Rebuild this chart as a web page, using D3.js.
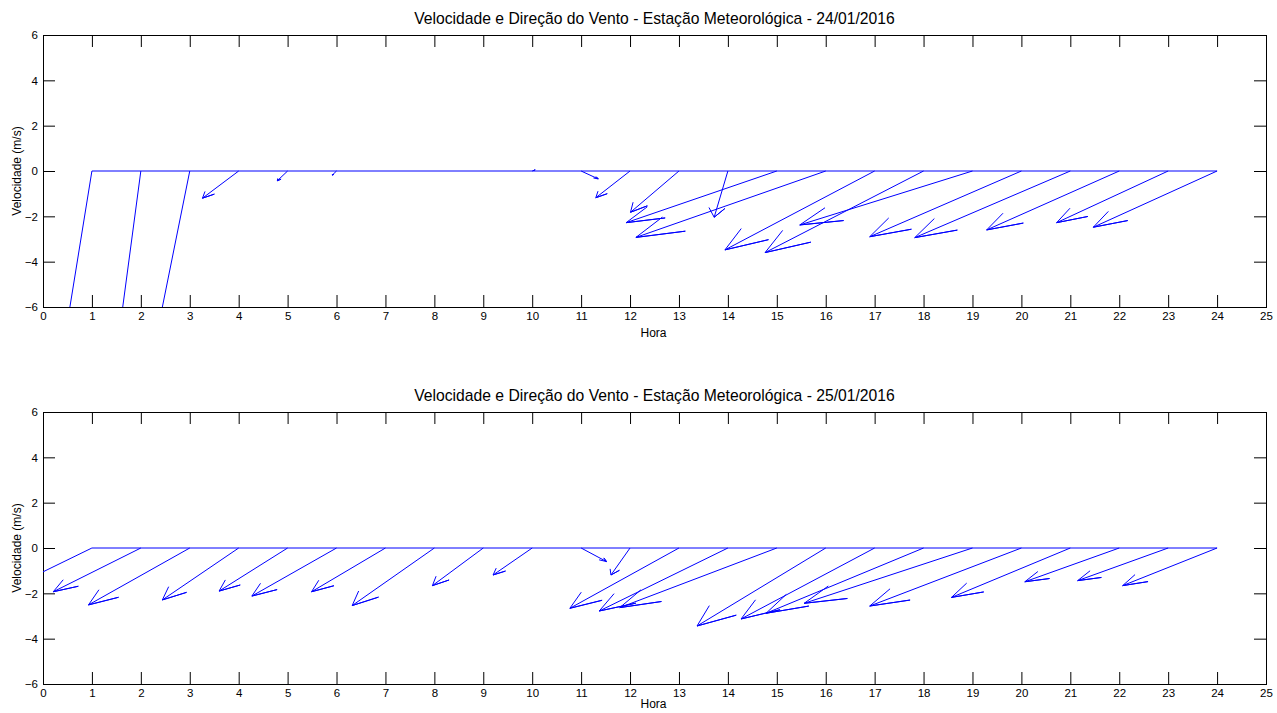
<!DOCTYPE html>
<html>
<head>
<meta charset="utf-8">
<script src="https://cdn.jsdelivr.net/npm/d3@7"></script>
<style>
  body { margin: 0; background: #fff; }
  svg { display: block; font-family: "Liberation Sans", Arial, sans-serif; }
</style>
</head>
<body>
<svg id="chart" width="1277" height="713"></svg>
<script>
// ---- data ----
const hours = d3.range(1, 25);           // 1..24 hour positions
const xTicks = d3.range(0, 26);          // 0..25
const yTicks = [-6, -4, -2, 0, 2, 4, 6];

const titles = [
  "Velocidade e Direção do Vento - Estação Meteorológica - 24/01/2016",
  "Velocidade e Direção do Vento - Estação Meteorológica - 25/01/2016"
];

// day 1 (24/01/2016) wind components (u east, v north) in m/s
const u1 = [-0.90, -0.74, -1.12, -0.74, -0.21, -0.086, 0, 0, 0, 0.06, 0.35, -0.70,
            -0.99, -0.28, -3.08, -3.88, -3.06, -3.24, -3.53, -3.10, -3.18, -2.71, -2.28, -2.53];
const v1 = [-12.0, -12.0, -12.0, -1.20, -0.43, -0.18, 0, 0, 0, 0.05, -0.35, -1.18,
            -1.82, -2.04, -2.28, -2.93, -3.48, -3.60, -2.38, -2.90, -2.94, -2.60, -2.28, -2.48];

// day 2 (25/01/2016)
const u2 = [-2.30, -1.79, -2.07, -1.56, -1.40, -1.73, -1.51, -1.68, -1.04, -0.80, 0.52, -0.39,
            -2.23, -2.63, -3.21, -2.63, -2.73, -3.22, -3.44, -3.10, -2.43, -1.93, -1.85, -1.93];
const v2 = [-2.42, -1.93, -2.51, -2.29, -1.90, -2.12, -1.93, -2.54, -1.66, -1.19, -0.60, -1.19,
            -2.66, -2.78, -2.63, -3.44, -3.13, -2.88, -2.44, -2.56, -2.18, -1.49, -1.44, -1.66];

const xLabel = "Hora";
const yLabel = "Velocidade (m/s)";

// ---- layout ----
const svg = d3.select("#chart");
const left = 43, right = 1266;
const panels = [
  { top: 35, bottom: 307, u: u1, v: v1, title: titles[0] },
  { top: 412, bottom: 684, u: u2, v: v2, title: titles[1] }
];

// feather arrow template (MATLAB style): 0 -> tip -> barb -> tip -> barb
const arrowRe = [0, 1, 0.8, 1, 0.8];
const arrowIm = [0, 0, 0.08, 0, -0.08];

panels.forEach((p, k) => {
  const x = d3.scaleLinear().domain([0, 25]).range([left, right]);
  const y = d3.scaleLinear().domain([-6, 6]).range([p.bottom, p.top]);
  const g = svg.append("g");

  const clipId = "clip" + k;
  svg.append("clipPath").attr("id", clipId)
    .append("rect").attr("x", left).attr("y", p.top)
    .attr("width", right - left).attr("height", p.bottom - p.top);

  // axes
  const tickLen = 12;
  g.append("g").attr("transform", `translate(0,${p.bottom})`)
    .call(d3.axisBottom(x).tickValues(xTicks).tickSize(-tickLen).tickPadding(5).tickFormat(d3.format("d")))
    .call(a => a.select(".domain").remove());
  g.append("g").attr("transform", `translate(0,${p.top})`)
    .call(d3.axisTop(x).tickValues(xTicks).tickSize(-tickLen).tickFormat(""))
    .call(a => a.select(".domain").remove());
  g.append("g").attr("transform", `translate(${left},0)`)
    .call(d3.axisLeft(y).tickValues(yTicks).tickSize(-tickLen).tickPadding(5).tickFormat(d3.format("d")))
    .call(a => a.select(".domain").remove());
  g.append("g").attr("transform", `translate(${right},0)`)
    .call(d3.axisRight(y).tickValues(yTicks).tickSize(-tickLen).tickFormat(""))
    .call(a => a.select(".domain").remove());

  g.selectAll(".tick line").attr("stroke", "#000");
  g.selectAll(".tick text").attr("font-size", 11.5).attr("fill", "#000")
    .attr("font-family", "'Liberation Sans', Arial, sans-serif");

  g.append("rect").attr("x", left + 0.5).attr("y", p.top + 0.5)
    .attr("width", right - left).attr("height", p.bottom - p.top)
    .attr("fill", "none").attr("stroke", "#000");

  // plot content
  const plot = g.append("g").attr("clip-path", `url(#${clipId})`);
  const line = d3.line().x(d => x(d[0])).y(d => y(d[1]));

  plot.append("path")
    .attr("d", line([[hours[0], 0], [hours[hours.length - 1], 0]]))
    .attr("fill", "none").attr("stroke", "#0000ff").attr("stroke-width", 1);

  hours.forEach((h, i) => {
    const uu = p.u[i], vv = p.v[i];
    const pts = arrowRe.map((r, j) => {
      const im = arrowIm[j];
      // (r + i*im) * (u + i*v)
      return [h + r * uu - im * vv, r * vv + im * uu];
    });
    plot.append("path")
      .attr("d", line(pts))
      .attr("fill", "none").attr("stroke", "#0000ff").attr("stroke-width", 1)
      .attr("stroke-linejoin", "miter");
  });

  // titles and labels
  g.append("text").attr("x", (left + right) / 2).attr("y", p.top - 11)
    .attr("text-anchor", "middle").attr("font-size", 15.7).attr("fill", "#000")
    .text(p.title);
  g.append("text").attr("x", (left + right) / 2 - 1).attr("y", Math.min(p.bottom + 30, 708))
    .attr("text-anchor", "middle").attr("font-size", 12).attr("fill", "#000")
    .text(xLabel);
  g.append("text")
    .attr("transform", `translate(21,${(p.top + p.bottom) / 2}) rotate(-90)`)
    .attr("text-anchor", "middle").attr("font-size", 12).attr("fill", "#000")
    .text(yLabel);
});
</script>
</body>
</html>
